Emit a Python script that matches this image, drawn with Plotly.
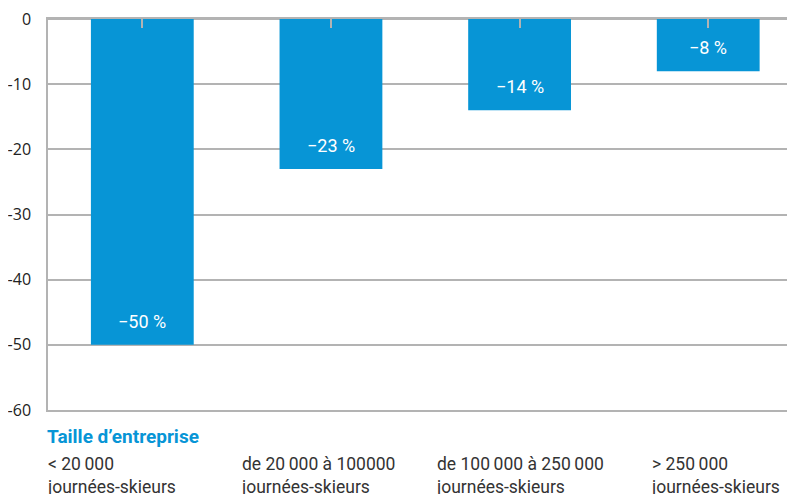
import plotly.graph_objects as go

categories = ["< 20\u2009000", "de 20\u2009000 à 100000", "de 100\u2009000 à 250\u2009000", "> 250\u2009000"]
label_line2 = ["journées-skieurs"] * 4
values = [-50, -23, -14, -8]
value_labels = ["−50 %", "−23 %", "−14 %", "−8 %"]
y_ticks = [0, -10, -20, -30, -40, -50, -60]
axis_title = "Taille d’entreprise"

BLUE = "#0795d6"
GRID = "#b3b3b3"

x = list(range(len(categories)))
fig = go.Figure()
fig.add_trace(go.Bar(x=x, y=values, marker=dict(color=BLUE, line=dict(width=0)),
                     width=0.545, hoverinfo="skip"))

annotations = []
for i, (v, t) in enumerate(zip(values, value_labels)):
    annotations.append(dict(x=i, y=v, xref="x", yref="y", text=t, showarrow=False,
                            yanchor="bottom", yshift=11,
                            font=dict(family="Roboto", size=18, color="white")))

label_shift = [-97, -92, -86, -59]
for i, (a, b) in enumerate(zip(categories, label_line2)):
    annotations.append(dict(x=i, y=0, xref="x", yref="paper", text=a + "<br>" + b,
                            showarrow=False, xanchor="left", yanchor="top",
                            xshift=label_shift[i], yshift=-42, align="left",
                            font=dict(family="Roboto", size=17.5, color="#333333")))
annotations.append(dict(x=0, y=0, xref="paper", yref="paper", text="<b>" + axis_title + "</b>",
                        showarrow=False, xanchor="left", yanchor="top", yshift=-13, xshift=-3,
                        font=dict(family="Roboto", size=19, color=BLUE)))

fig.update_layout(
    width=787, height=486,
    margin=dict(l=38, r=0, t=10, b=84),
    paper_bgcolor="white", plot_bgcolor="white",
    showlegend=False,
    annotations=annotations,
    xaxis=dict(range=[-0.5, 3.46], side="top", showticklabels=False,
               tickmode="array", tickvals=x, tickson="boundaries",
               ticks="inside", ticklen=9, tickcolor=GRID, tickwidth=1.5,
               showgrid=False, zeroline=False,
               showline=True, mirror=True, linecolor=GRID, linewidth=1.5),
    yaxis=dict(range=[-60, 0], tickmode="array", tickvals=y_ticks,
               ticktext=[str(v) for v in y_ticks],
               showgrid=True, gridcolor=GRID, gridwidth=1.5,
               zeroline=True, zerolinecolor=GRID, zerolinewidth=1.5,
               showline=True, linecolor=GRID, linewidth=1.5,
               ticks="", ticklabelstandoff=12, ticklabeloverflow="allow",
               tickfont=dict(family="Open Sans", size=16, color="#222222")),
)
fig.write_html("out.html")
